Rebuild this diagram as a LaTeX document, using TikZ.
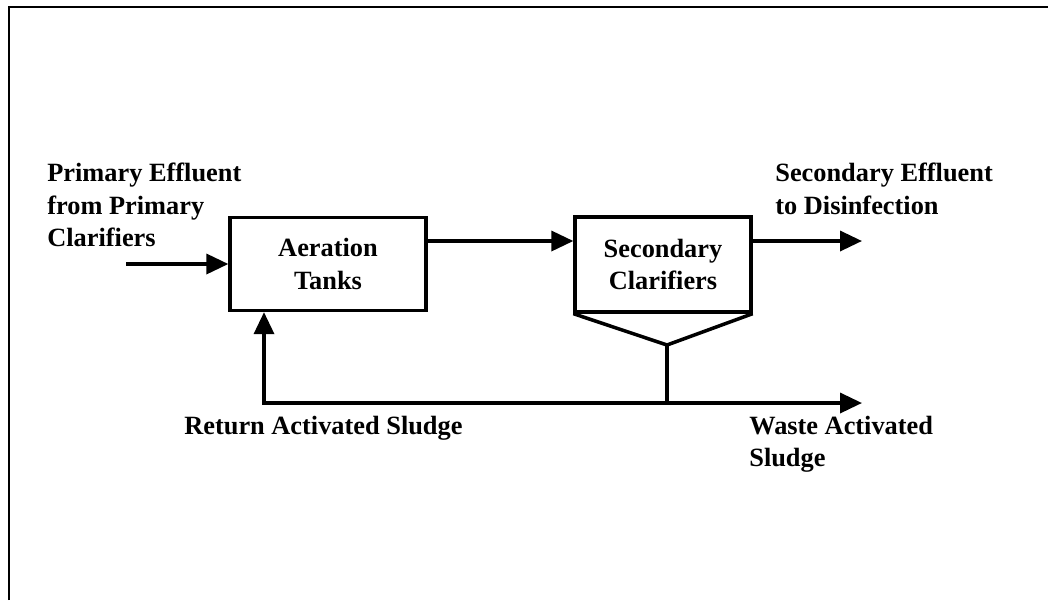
\documentclass[tikz,border=0pt]{standalone}
\usepackage{fontspec}
\setmainfont{Liberation Serif}
\usetikzlibrary{positioning, arrows.meta}

\begin{document}
\begin{tikzpicture}[x=0.02cm, y=-0.02cm,
  every node/.style={font=\fontsize{15}{18.4}\selectfont\bfseries},
  unit/.style={draw, line width=1.9pt, align=center, inner sep=2pt},
  lbl/.style={align=left, inner sep=0pt, anchor=north west},
  pipe/.style={line width=2pt, line join=miter},
  flow/.style={pipe, -{Triangle[length=0.44cm, width=0.4cm]}}]

\useasboundingbox (0,0) rectangle (1048,600);

% --- Frame ---
\draw[line width=1pt] (9,600) -- (9,7) -- (1048,7);

% --- Process units ---
\node[unit, minimum width=3.92cm, minimum height=1.86cm] (aer) at (328,264) {Aeration\\Tanks};
\node[unit, minimum width=3.52cm, minimum height=1.9cm] (sec) at (663,264.5) {Secondary\\Clarifiers};

% --- Free ends and junctions ---
\coordinate (feed) at (126,264);
\coordinate (eff) at (862,241);
\coordinate (apex) at (667,345);
\coordinate (junc) at (667,403);
\coordinate (ras) at (264,403);
\coordinate (was) at (862,403);

% --- Clarifier hopper ---
\draw[pipe] (sec.south west) -- (apex) -- (sec.south east);
\draw[pipe] (apex) -- (junc);

% --- Flows ---
\draw[flow] (feed) -- (aer.west);
\draw[flow] (aer.east |- eff) -- (sec.west |- eff);
\draw[flow] (sec.east |- eff) -- (eff);
\draw[flow] (junc) -- (ras) -- (ras |- aer.south);
\draw[flow] (junc) -- (was);

% --- Stream labels ---
\node[lbl] (pel) at (47,163) {Primary Effluent\\from Primary\\Clarifiers};
\node[lbl] (sel) at (775,163) {Secondary Effluent\\to Disinfection};
\node[lbl] (rasl) at (184,416) {Return Activated Sludge};
\node[lbl] (wasl) at (749,416) {Waste Activated\\Sludge};

\end{tikzpicture}
\end{document}
